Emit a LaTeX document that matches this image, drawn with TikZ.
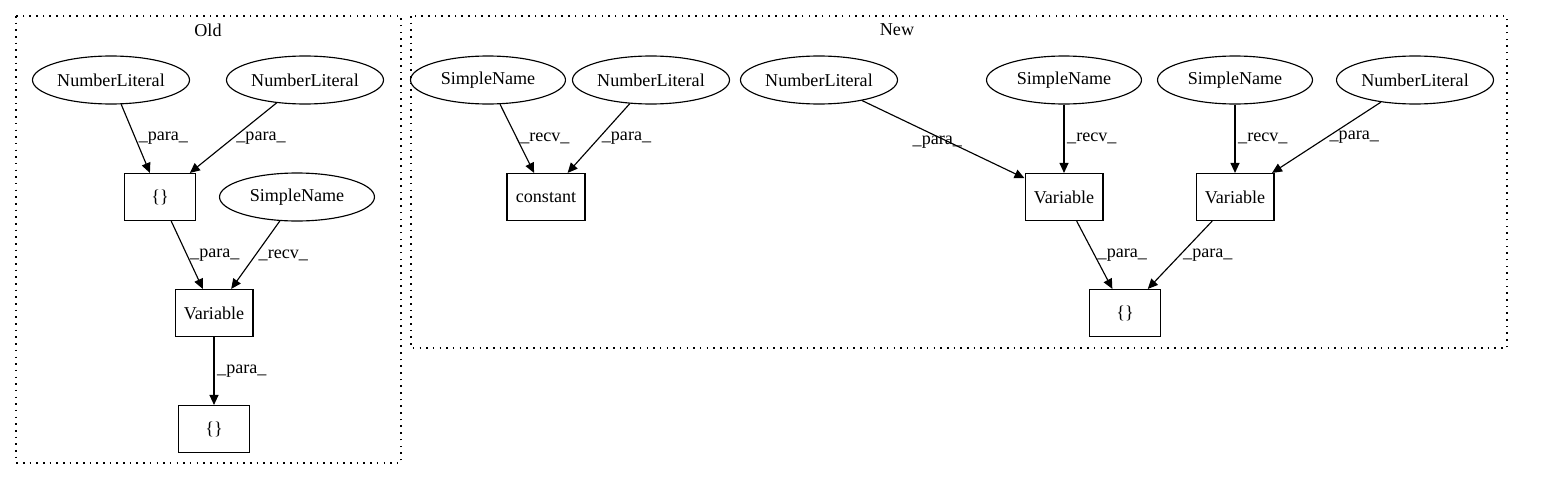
\documentclass[tikz,border=0pt]{standalone}
\usepackage{fontspec}
\setmainfont{Liberation Serif}
\usetikzlibrary{shapes.geometric,arrows.meta}

\begin{document}
\begin{tikzpicture}[x=0.02cm, y=-0.02cm,
  every node/.style={font=\fontsize{10.3}{12}\selectfont},
  lit/.style={draw, ellipse, line width=0.65pt, minimum width=3.1cm, minimum height=0.96cm, inner sep=1pt},
  box/.style={draw, rectangle, line width=0.65pt, minimum width=1.42cm, minimum height=0.94cm, inner xsep=5pt},
  edge/.style={-{Triangle[length=2mm,width=1.8mm]}, line width=0.65pt},
  lbl/.style={right, inner sep=1.5pt},
  cluster/.style={line width=0.7pt, dash pattern=on 0.9pt off 2.9pt}]

  \useasboundingbox (0,0) rectangle (1544,480);

  % ── Cluster frames ────────────────────────────────────────────
  \draw[cluster] (16,16) rectangle (401,463);
  \node (oldTitle) at (208,30) {Old};
  \draw[cluster] (411,16) rectangle (1507,348);
  \node (newTitle) at (897,30) {New};

  % ── Old: literals into the brace, then into Variable ─────────
  \node[lit] (oNumA)  at (111,80)  {NumberLiteral};
  \node[lit] (oNumB)  at (305,80)  {NumberLiteral};
  \node[box] (oBrace) at (160,197) {\{\}};
  \node[lit] (oName)  at (297,197) {SimpleName};
  \node[box] (oVar)   at (214,313) {Variable};
  \node[box] (oOut)   at (214,429) {\{\}};

  \draw[edge] (oNumA)  -- node[lbl] {\_para\_} (oBrace);
  \draw[edge] (oNumB)  -- node[lbl] {\_para\_} (oBrace);
  \draw[edge] (oBrace) -- node[lbl] {\_para\_} (oVar);
  \draw[edge] (oName)  -- node[lbl] {\_recv\_} (oVar);
  \draw[edge] (oVar)   -- node[lbl] {\_para\_} (oOut);

  % ── New: constant call ───────────────────────────────────────
  \node[lit] (nNameA) at (488,80)  {SimpleName};
  \node[lit] (nNumA)  at (651,80)  {NumberLiteral};
  \node[box] (nConst) at (546,197) {constant};

  \draw[edge] (nNameA) -- node[lbl] {\_recv\_} (nConst);
  \draw[edge] (nNumA)  -- node[lbl] {\_para\_} (nConst);

  % ── New: two Variables into the brace ────────────────────────
  \node[lit] (nNumB)  at (819,80)   {NumberLiteral};
  \node[lit] (nNameB) at (1064,80)  {SimpleName};
  \node[lit] (nNameC) at (1235,80)  {SimpleName};
  \node[lit] (nNumC)  at (1415,80)  {NumberLiteral};
  \node[box] (nVarA)  at (1064,197) {Variable};
  \node[box] (nVarB)  at (1235,197) {Variable};
  \node[box] (nOut)   at (1125,313) {\{\}};

  \draw[edge] (nNumB)  -- node[lbl, anchor=center, xshift=-1.2mm, yshift=-0.5mm] {\_para\_} (nVarA);
  \draw[edge] (nNameB) -- node[lbl] {\_recv\_} (nVarA);
  \draw[edge] (nNameC) -- node[lbl] {\_recv\_} (nVarB);
  \draw[edge] (nNumC)  -- node[lbl] {\_para\_} (nVarB);
  \draw[edge] (nVarA)  -- node[lbl] {\_para\_} (nOut);
  \draw[edge] (nVarB)  -- node[lbl] {\_para\_} (nOut);

\end{tikzpicture}
\end{document}
